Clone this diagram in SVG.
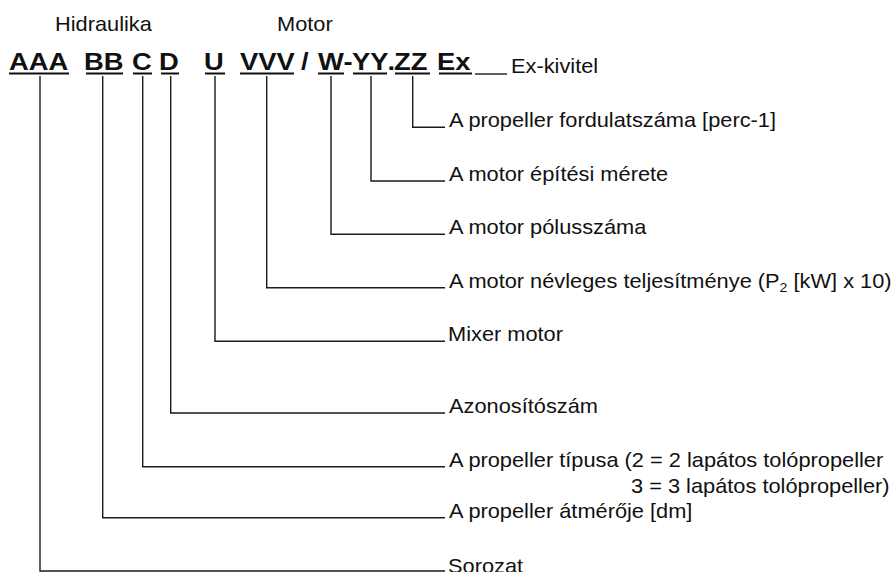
<svg xmlns="http://www.w3.org/2000/svg" width="893" height="572" viewBox="0 0 893 572">
  <style>
    .lbl { font-family: "Liberation Sans", Arial, sans-serif; font-size: 20px; fill: #111; }
    .code { font-family: "Liberation Sans", Arial, sans-serif; font-size: 24px; font-weight: bold; fill: #111; }
    .sub { font-size: 13px; }
    .ul { stroke: #111; stroke-width: 2; }
    .conn { fill: none; stroke: #1a1a1a; stroke-width: 1.4; }
  </style>
  <rect width="893" height="572" fill="#fff"/>

  <!-- group headings -->
  <g id="headings">
    <text class="lbl" transform="translate(55 31) scale(1.09 1)">Hidraulika</text>
    <text class="lbl" transform="translate(277 31) scale(1.09 1)">Motor</text>
  </g>

  <!-- type code -->
  <g id="type-code">
    <text class="code" transform="translate(9 70) scale(1.14 1)">AAA</text>
    <text class="code" transform="translate(84 70) scale(1.14 1)">BB</text>
    <text class="code" transform="translate(132 70) scale(1.14 1)">C</text>
    <text class="code" transform="translate(159 70) scale(1.14 1)">D</text>
    <text class="code" transform="translate(204 70) scale(1.14 1)">U</text>
    <text class="code" transform="translate(240 70) scale(1.14 1)">VVV</text>
    <text class="code" transform="translate(301 70) scale(1.14 1)">/</text>
    <text class="code" transform="translate(318 70) scale(1.14 1)">W</text>
    <text class="code" transform="translate(343.5 70) scale(1.14 1)">-</text>
    <text class="code" transform="translate(352 70) scale(1.14 1)">YY</text>
    <text class="code" transform="translate(387.5 70) scale(1.14 1)">.</text>
    <text class="code" transform="translate(394 70) scale(1.14 1)">ZZ</text>
    <text class="code" transform="translate(437 70) scale(1.14 1)">Ex</text>
    <g id="underlines">
      <line class="ul" x1="9" y1="73.5" x2="69" y2="73.5"/>
      <line class="ul" x1="86" y1="73.5" x2="123" y2="73.5"/>
      <line class="ul" x1="133" y1="73.5" x2="152" y2="73.5"/>
      <line class="ul" x1="161" y1="73.5" x2="179" y2="73.5"/>
      <line class="ul" x1="205" y1="73.5" x2="225" y2="73.5"/>
      <line class="ul" x1="240" y1="73.5" x2="294" y2="73.5"/>
      <line class="ul" x1="318" y1="73.5" x2="344" y2="73.5"/>
      <line class="ul" x1="353" y1="73.5" x2="387" y2="73.5"/>
      <line class="ul" x1="395" y1="73.5" x2="430" y2="73.5"/>
      <line class="ul" x1="439" y1="73.5" x2="472" y2="73.5"/>
    </g>
  </g>

  <!-- connectors from each code segment to its label -->
  <g id="connectors">
    <line class="conn" x1="475" y1="74" x2="507" y2="74"/>
    <polyline class="conn" points="412.7,76 412.7,127.3 445,127.3"/>
    <polyline class="conn" points="371,76 371,181 445,181"/>
    <polyline class="conn" points="331,76 331,234.3 445,234.3"/>
    <polyline class="conn" points="266.7,76 266.7,287.7 445,287.7"/>
    <polyline class="conn" points="215,76 215,341.3 445,341.3"/>
    <polyline class="conn" points="170.7,76 170.7,413 445,413"/>
    <polyline class="conn" points="142.7,76 142.7,466.7 445,466.7"/>
    <polyline class="conn" points="102.7,76 102.7,517.7 445,517.7"/>
    <polyline class="conn" points="40,76 40,571 445,571"/>
  </g>

  <!-- labels -->
  <g id="label-ex"><text class="lbl" transform="translate(511 73) scale(1.09 1)">Ex-kivitel</text></g>
  <g id="label-zz"><text class="lbl" transform="translate(449 127.3) scale(1.09 1)">A propeller fordulatszáma [perc-1]</text></g>
  <g id="label-yy"><text class="lbl" transform="translate(449 181) scale(1.09 1)">A motor építési mérete</text></g>
  <g id="label-w"><text class="lbl" transform="translate(449 234.3) scale(1.09 1)">A motor pólusszáma</text></g>
  <g id="label-vvv"><text class="lbl" transform="translate(449 287.7) scale(1.09 1)">A motor névleges teljesítménye (P<tspan class="sub" dy="4">2</tspan><tspan dy="-4"> [kW] x 10)</tspan></text></g>
  <g id="label-u"><text class="lbl" transform="translate(448 341.3) scale(1.09 1)">Mixer motor</text></g>
  <g id="label-d"><text class="lbl" transform="translate(449 413) scale(1.09 1)">Azonosítószám</text></g>
  <g id="label-c">
    <text class="lbl" transform="translate(449 466.7) scale(1.09 1)">A propeller típusa (2 = 2 lapátos tolópropeller</text>
    <text class="lbl" transform="translate(631 493.3) scale(1.09 1)">3 = 3 lapátos tolópropeller)</text>
  </g>
  <g id="label-bb"><text class="lbl" transform="translate(449 517.7) scale(1.09 1)">A propeller átmérője [dm]</text></g>
  <g id="label-aaa"><text class="lbl" transform="translate(448 573) scale(1.09 1)">Sorozat</text></g>
</svg>
